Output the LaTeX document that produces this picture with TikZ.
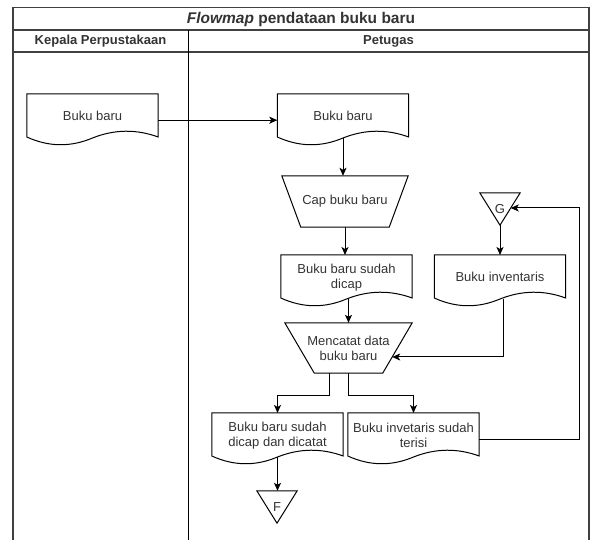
\documentclass[tikz,border=0pt]{standalone}
\usepackage{fontspec}
\setmainfont{Liberation Sans}
\usetikzlibrary{arrows.meta,calc}
\newcommand\docshape[1]{%
  \draw[shp] (#1.north west) -- (#1.north east) -- ($(#1.north east)+(0,43)$)
    .. controls ($(#1.north west)!0.8333!(#1.north east)+(0,35)$) and ($(#1.north west)!0.6667!(#1.north east)+(0,35.3)$) .. ($(#1.north west)!0.5!(#1.north east)+(0,44)$)
    .. controls ($(#1.north west)!0.3333!(#1.north east)+(0,53.3)$) and ($(#1.north west)!0.1667!(#1.north east)+(0,53)$) .. ($(#1.north west)+(0,43)$)
    -- cycle;}
\newcommand\trapshape[2]{%
  \draw[shp] (#1.north west) -- (#1.north east) -- ($(#1.south east)+(-#2,0)$) -- ($(#1.south west)+(#2,0)$) -- cycle;}
\newcommand\trishape[1]{%
  \draw[shp] (#1.north west) -- (#1.north east) -- (#1.south) -- cycle;}
\begin{document}
\begin{tikzpicture}[x=1pt,y=-1pt,
  txt/.style={font=\fontsize{13}{15}\selectfont, text=black!80, align=center, inner sep=0pt},
  docbox/.style={txt, minimum width=131pt, minimum height=44pt, anchor=north},
  tribox/.style={txt, minimum width=40pt, minimum height=32pt},
  shp/.style={draw=black, line width=1pt},
  arr/.style={draw=black, line width=1pt, -{Stealth[length=8pt,width=7pt,inset=2pt]}},
  frame/.style={draw=black!75, line width=1.3pt},
  hdr/.style={font=\fontsize{13}{15}\selectfont\bfseries, text=black!80, inner sep=0pt}
]
\useasboundingbox (0,0) rectangle (590,540);
% frame
\draw[frame] (13,541) -- (13,7.5) -- (589,7.5) -- (589,541);
\draw[frame] (13,30) -- (589,30);
\draw[frame] (13,52) -- (589,52);
\draw[draw=black, line width=1pt] (188,30) -- (188,541);
\node[hdr, font=\fontsize{15.5}{17}\selectfont\bfseries] (title) at (301,19) {\textit{Flowmap} pendataan buku baru};
\node[hdr] (h1) at (100.5,41) {Kepala Perpustakaan};
\node[hdr] (h2) at (388.5,41) {Petugas};

% nodes
\node[docbox] (l1) at (92.5,94) {Buku baru};
\node[docbox] (r1) at (343,94) {Buku baru};
\node[txt, minimum width=126pt, minimum height=51pt] (cap) at (345,201.5) {Cap buku baru};
\node[docbox] (r2) at (346.5,255) {Buku baru sudah\\dicap};
\node[tribox] (g) at (500,209) {G};
\node[docbox] (inv) at (500,255) {Buku inventaris};
\node[txt, minimum width=127pt, minimum height=50pt] (m) at (348.5,348) {Mencatat data\\buku baru};
\node[docbox] (d1) at (277.5,413) {Buku baru sudah\\dicap dan dicatat};
\node[docbox] (d2) at (413.5,413) {Buku invetaris sudah\\terisi};
\node[tribox] (f) at (277,507) {F};

% shapes
\docshape{l1}\docshape{r1}\docshape{r2}\docshape{inv}\docshape{d1}\docshape{d2}
\trapshape{cap}{19}
\trapshape{m}{29.5}
\trishape{g}\trishape{f}

% connectors
\coordinate (mr) at ($(m.east)+(-20,9)$);
\coordinate (gr) at ($(g.north east)!0.469!(g.south)$);
\draw[arr] ($(l1.east)+(0,4)$) -- ($(r1.west)+(0,4)$);
\draw[arr] (r1.south) -- (r1.south |- cap.north);
\draw[arr] (cap.south) -- (cap.south |- r2.north);
\draw[arr] (m.north |- r2.south) -- (m.north);
\draw[arr] (g.south) -- (g.south |- inv.north);
\draw[arr] ($(inv.south)+(3,0)$) |- (mr);
\draw[arr] ($(m.south)+(-19.5,0)$) -- ++(0,22) -| (d1.north);
\draw[arr] (m.south) -- ++(0,22) -| (d2.north);
\draw[arr] (d1.south) -- (d1.south |- f.north);
\draw[arr] ($(d2.east)+(0,4)$) -- ++(100,0) |- (gr);
\end{tikzpicture}
\end{document}
